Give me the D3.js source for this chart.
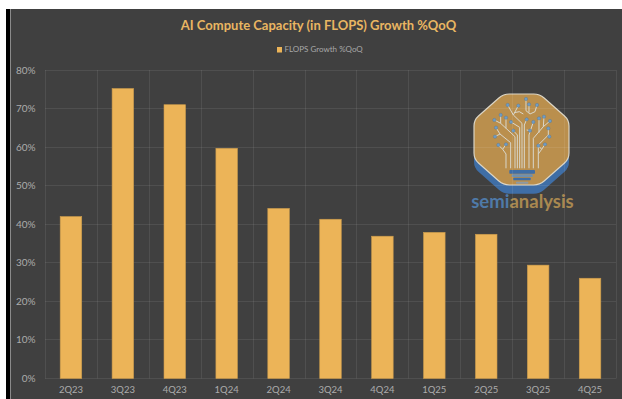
<!DOCTYPE html>
<html>
<head>
<meta charset="utf-8">
<script src="https://cdn.jsdelivr.net/npm/d3@7/dist/d3.min.js"></script>
<style>
html,body{margin:0;padding:0;background:#fff;}
svg{display:block;}
text{font-family:Lato,sans-serif;}
</style>
</head>
<body>
<svg id="chart" width="622" height="399"></svg>
<script>
const quarters = ["2Q23","3Q23","4Q23","1Q24","2Q24","3Q24","4Q24","1Q25","2Q25","3Q25","4Q25"];
const growth = [42,75.2,71,59.7,44.1,41.3,36.9,37.9,37.4,29.4,26];
const yTicks = [0,10,20,30,40,50,60,70,80];

const svg = d3.select("#chart");
const plot = {left:45,right:616,top:70,bottom:378.5};

// Page frame: white strip above, black edge on the left, dark chart area
svg.append("rect").attr("x",6).attr("y",9).attr("width",4).attr("height",390).attr("fill","#000");
svg.append("rect").attr("x",10).attr("y",9).attr("width",612).attr("height",390).attr("fill","#404040");
svg.append("rect").attr("x",10).attr("y",9).attr("width",1).attr("height",390).attr("fill","#8a8a8a");

const x = d3.scaleBand().domain(quarters).range([plot.left,plot.right]).paddingInner(0.585).paddingOuter(0.2925);
const xGrid = d3.scaleBand().domain(quarters).range([plot.left,plot.right]);
const y = d3.scaleLinear().domain([0,80]).range([plot.bottom,plot.top]);

// Watermark logo, drawn in a 3x local grid and scaled down
const logo = svg.append("g").attr("transform","translate(480,90) scale(0.3333)");

// Octagon outline with softened corners
const octagonPts = [[70,12],[179,12],[267,90],[267,207],[179,285],[70,285],[-18,207],[-18,90]];
function roundedPath(pts, r){
  const n = pts.length;
  let d = "";
  pts.forEach((p,i)=>{
    const a = pts[(i+n-1)%n], b = pts[(i+1)%n];
    const toward = (q)=>{
      const dx=q[0]-p[0], dy=q[1]-p[1], len=Math.hypot(dx,dy);
      return [p[0]+dx/len*r, p[1]+dy/len*r];
    };
    const s = toward(a), e = toward(b);
    d += (i? "L":"M")+s[0]+","+s[1]+"Q"+p[0]+","+p[1]+" "+e[0]+","+e[1];
  });
  return d+"Z";
}
logo.append("path").attr("d",roundedPath(octagonPts,18)).attr("transform","translate(0,26)").attr("fill","#3f6ea6");
logo.append("path").attr("d",roundedPath(octagonPts,18)).attr("fill","#ba8f4d").attr("stroke","#dcd6c6").attr("stroke-width",3.5);

// Circuit-tree branches
const traces = [
  "M78,235V192L68,178L55,165","M68,178L78,163",
  "M92,235V158L60,132L45,140","M60,132L48,113",
  "M105,235V140L62,100L43,90","M62,100V75","M78,115V83",
  "M112,235V135L100,122","M119,235V112L93,96",
  "M126,235V100L100,75L83,45","M100,75L115,47","M103,68L118,65L130,72",
  "M133,235V105L140,88",
  "M138,27V62L150,72L165,65L171,45","M147,43V68",
  "M147,235V135L160,96","M140,120L150,122",
  "M160,235V145L190,110L192,80","M177,85V128","M190,110L210,93",
  "M175,235V165L205,135L208,140","M205,135V115",
  "M175,192L185,178L175,167","M185,178L195,163"
];
logo.append("g").attr("fill","none").attr("stroke","#d9d7cc").attr("stroke-width",3)
  .selectAll("path").data(traces).join("path").attr("d",d=>d);
const nodes = [[138,27],[83,45],[115,47],[147,43],[171,45],[62,75],[43,90],[78,83],[93,96],[100,122],[48,113],[45,140],[55,165],[78,163],[140,88],[160,96],[177,85],[192,80],[210,93],[150,122],[205,115],[208,140],[175,167],[195,163]];
logo.append("g").attr("fill","#6f9cc4").attr("stroke","#4b6f92").attr("stroke-width",1)
  .selectAll("circle").data(nodes).join("circle")
  .attr("cx",d=>d[0]).attr("cy",d=>d[1]).attr("r",5);
const baseBands = [[88,240,77,11,"#3f6ea6"],[95,253,63,8,"#6f8fae"],[100,263,52,8,"#3f6ea6"],[108,275,37,6,"#8d9aa4"]];
logo.append("g").selectAll("rect").data(baseBands).join("rect")
  .attr("x",d=>d[0]).attr("y",d=>d[1]).attr("width",d=>d[2]).attr("height",d=>d[3]).attr("fill",d=>d[4]).attr("rx",2);

const brand = svg.append("text").attr("x",522.5).attr("y",208).attr("text-anchor","middle")
  .attr("font-size",18.5).attr("font-weight",700);
brand.append("tspan").attr("fill","#4f7aa8").text("semi");
brand.append("tspan").attr("fill","#a98850").text("analysis");

// Gridlines sit faintly over the watermark
const grid = svg.append("g").attr("stroke","#fff").attr("stroke-opacity",0.08).attr("stroke-width",1);
grid.selectAll("line.h").data(yTicks).join("line").attr("class","h")
  .attr("x1",plot.left).attr("x2",plot.right)
  .attr("y1",d=>Math.floor(y(d))+0.5).attr("y2",d=>Math.floor(y(d))+0.5);
grid.selectAll("line.v").data(quarters.concat(["end"])).join("line").attr("class","v")
  .attr("x1",(d,i)=>Math.round(plot.left+i*xGrid.bandwidth())+0.5).attr("x2",(d,i)=>Math.round(plot.left+i*xGrid.bandwidth())+0.5)
  .attr("y1",plot.top).attr("y2",plot.bottom);

// Bars
svg.append("g").selectAll("rect").data(growth).join("rect")
  .attr("x",(d,i)=>x(quarters[i])).attr("width",x.bandwidth())
  .attr("y",d=>y(d)).attr("height",d=>y(0)-y(d))
  .attr("fill","#ecb458").attr("stroke","#c99a4c").attr("stroke-width",0.6);

// Axis labels
svg.append("g").selectAll("text").data(yTicks).join("text")
  .attr("x",35.5).attr("y",d=>y(d)+3.5).attr("text-anchor","end")
  .attr("font-size",10).attr("fill","#acacac").text(d=>d+"%");
svg.append("g").selectAll("text").data(quarters).join("text")
  .attr("x",d=>x(d)+x.bandwidth()/2).attr("y",393).attr("text-anchor","middle")
  .attr("font-size",9.5).attr("fill","#acacac").text(d=>d);

// Title and legend
svg.append("text").attr("x",318.5).attr("y",30).attr("text-anchor","middle")
  .attr("font-size",13).attr("font-weight",700).attr("fill","#e9b662")
  .text("AI Compute Capacity (in FLOPS) Growth %QoQ");
svg.append("rect").attr("x",277).attr("y",47).attr("width",5).attr("height",5.5).attr("fill","#ecb458");
svg.append("text").attr("x",284.5).attr("y",52).attr("font-size",8).attr("fill","#a8a8a8").text("FLOPS Growth %QoQ");
</script>
</body>
</html>
